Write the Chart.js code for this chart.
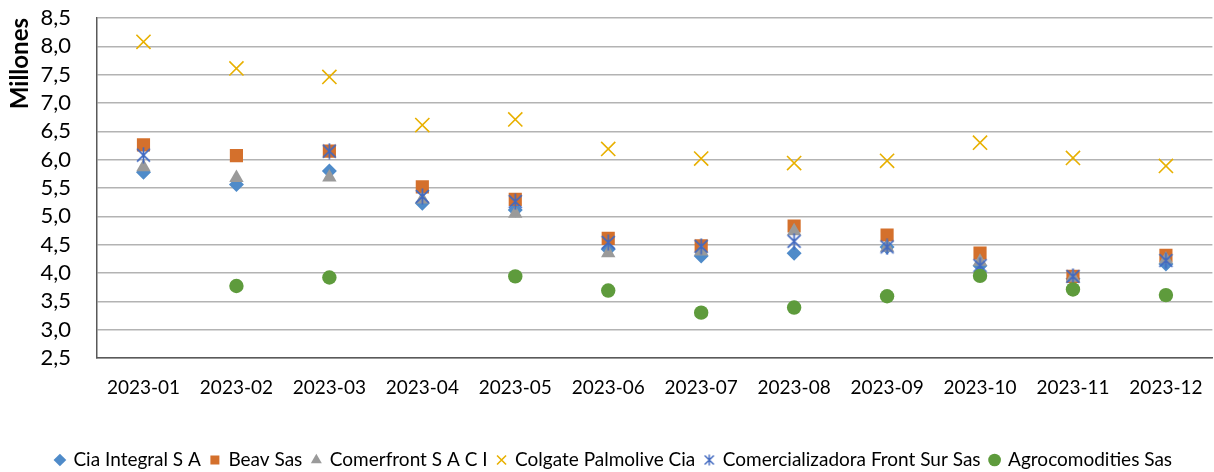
<!DOCTYPE html>
<html>
<head>
<meta charset="utf-8">
<script src="https://cdn.jsdelivr.net/npm/chart.js@4.4.1/dist/chart.umd.min.js"></script>
<style>
  html, body { margin: 0; padding: 0; background: #fff; overflow: hidden; }
  #wrap { width: 1224px; height: 472px; }
</style>
</head>
<body>
<div id="wrap"><canvas id="c"></canvas></div>
<script>
const months = ['2023-01','2023-02','2023-03','2023-04','2023-05','2023-06','2023-07','2023-08','2023-09','2023-10','2023-11','2023-12'];
const seriesNames = ['Cia Integral S A','Beav Sas','Comerfront S A C I','Colgate Palmolive Cia','Comercializadora Front Sur Sas','Agrocomodities Sas'];
const ciaIntegral      = [5.78, 5.56, 5.80, 5.23, 5.11, 4.42, 4.30, 4.35, 4.46, 4.13, 3.90, 4.16];
const beav             = [6.26, 6.07, 6.15, 5.52, 5.30, 4.61, 4.48, 4.83, 4.67, 4.35, 3.94, 4.31];
const comerfront       = [5.87, 5.68, 5.69, 5.30, 5.05, 4.35, 4.38, 4.74, 4.45, 4.20, 3.92, 4.24];
const colgate          = [8.08, 7.61, 7.46, 6.61, 6.71, 6.19, 6.02, 5.94, 5.98, 6.30, 6.03, 5.89];
const comercializadora = [6.08, null, 6.15, 5.35, 5.26, 4.54, 4.47, 4.56, 4.46, 4.13, 3.94, 4.22];
const agrocomodities   = [null, 3.77, 3.92, null, 3.94, 3.69, 3.30, 3.39, 3.59, 3.95, 3.71, 3.61];

// Excel-like "star" marker: X with a vertical bar
function makeStar(color, s, lw) {
  const cv = document.createElement('canvas');
  cv.width = s; cv.height = s;
  const g = cv.getContext('2d');
  g.strokeStyle = color; g.lineWidth = lw;
  const m = s * 0.12;
  g.beginPath();
  g.moveTo(m, m); g.lineTo(s - m, s - m);
  g.moveTo(s - m, m); g.lineTo(m, s - m);
  g.moveTo(s / 2, 0.5); g.lineTo(s / 2, s - 0.5);
  g.stroke();
  return cv;
}
const starImg = makeStar('#4169C0', 17, 1.7);
const starLegend = makeStar('#4169C0', 12, 1.4);

const FONT = "Lato, 'Open Sans', sans-serif";

const styles = [
  { pointStyle: 'rectRot',  radius: 7.5, bg: '#4F8BC9', bc: '#4F8BC9', bw: 0 },
  { pointStyle: 'rect',     radius: 9.3, bg: '#D4702C', bc: '#D4702C', bw: 0 },
  { pointStyle: 'triangle', radius: 8.3, bg: '#9A9A9A', bc: '#9A9A9A', bw: 0 },
  { pointStyle: 'crossRot', radius: 10,  bg: '#E8B000', bc: '#E8B000', bw: 1.6 },
  { pointStyle: starImg,    radius: 8.5, bg: '#4169C0', bc: '#4169C0', bw: 1.6 },
  { pointStyle: 'circle',   radius: 7.2, bg: '#5E9B3C', bc: '#5E9B3C', bw: 0 }
];
const values = [ciaIntegral, beav, comerfront, colgate, comercializadora, agrocomodities];

const datasets = values.map((arr, i) => ({
  label: seriesNames[i],
  data: arr,
  showLine: false,
  pointStyle: styles[i].pointStyle,
  pointRadius: styles[i].radius,
  pointHoverRadius: styles[i].radius,
  pointBackgroundColor: styles[i].bg,
  pointBorderColor: styles[i].bc,
  pointBorderWidth: styles[i].bw,
  backgroundColor: styles[i].bg,
  borderColor: styles[i].bc,
  borderWidth: styles[i].bw,
  order: values.length - i
}));

new Chart(document.getElementById('c'), {
  type: 'line',
  data: { labels: months, datasets },
  options: {
    responsive: true,
    maintainAspectRatio: false,
    animation: false,
    layout: { padding: { top: 18, right: 2, bottom: -7.5, left: 6 } },
    plugins: {
      tooltip: { enabled: false },
      legend: {
        position: 'bottom',
        labels: {
          usePointStyle: true,
          color: '#000',
          font: { family: FONT, size: 19 },
          padding: 10,
          boxWidth: 8,
          boxHeight: 9,
          sort: (a, b) => a.datasetIndex - b.datasetIndex,
          generateLabels: (chart) => {
            const items = Chart.defaults.plugins.legend.labels.generateLabels(chart);
            items.forEach((it) => { if (it.datasetIndex === 4) it.pointStyle = starLegend; });
            return items;
          }
        }
      }
    },
    scales: {
      x: {
        type: 'category',
        offset: true,
        grid: { display: false, drawTicks: false },
        border: { display: true, color: '#595959', width: 1.5 },
        ticks: { color: '#000', font: { family: FONT, size: 19 }, padding: 18, maxRotation: 0, autoSkip: false },
        afterFit: (s) => { s.height = 82.5; }
      },
      y: {
        min: 2.5,
        max: 8.5,
        grid: { color: '#B3B3B3', lineWidth: 1.5, drawTicks: false },
        border: { display: true, color: '#595959', width: 1.5 },
        ticks: {
          stepSize: 0.5,
          autoSkip: false,
          color: '#000',
          font: { family: FONT, size: 22 },
          padding: 26,
          callback: (v) => Number(v).toFixed(1).replace('.', ',')
        },
        title: {
          display: true,
          text: 'Millones',
          align: 'end',
          color: '#000',
          font: { family: FONT, size: 24, weight: 'bold' },
          padding: { top: 0, bottom: 2 }
        },
        afterFit: (s) => { s.width = 91; s.paddingTop = 13; s.paddingBottom = 13; }
      }
    }
  }
});
</script>
</body>
</html>
